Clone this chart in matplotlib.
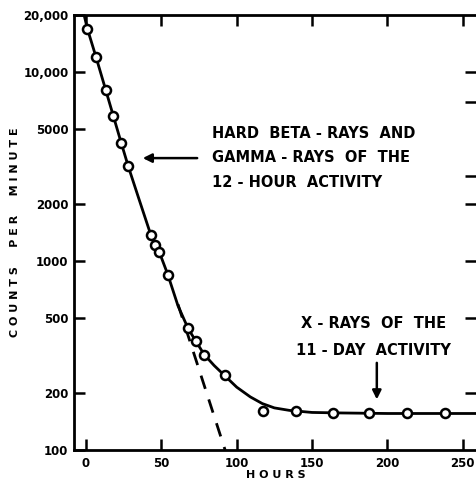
import matplotlib
matplotlib.use("Agg")
import matplotlib.pyplot as plt
from matplotlib.ticker import FixedLocator, FixedFormatter, NullLocator

# measured points (hours, counts per minute)
hours = [0.9, 6.6, 13.1, 18.1, 23.2, 28.1, 42.9, 45.8, 48.7, 54.2,
         67.7, 73.0, 78.4, 92.1, 117.3, 139.4, 163.6, 187.5, 213.1, 238.2]
counts = [16900, 12000, 8000, 5850, 4220, 3190, 1380, 1210, 1120, 842,
          443, 377, 318, 249, 161, 160, 156, 156, 156, 156]

# smooth curve
curve_hours = [-1.3, 0.9, 6.6, 13.1, 18.1, 23.2, 28.1, 35, 42.9, 48.7, 54.2, 61,
               67.7, 73.0, 78.4, 85, 92.1, 100, 109, 117, 125, 135, 150, 170,
               200, 262]
curve_counts = [20000, 16900, 12000, 8000, 5850, 4250, 3150, 2140, 1380, 1110, 850, 580,
                440, 375, 320, 280, 247, 215, 191, 176, 167, 162, 158, 157,
                156, 156]

# 12-hour component extrapolated (dashed)
dash_hours = [61, 92.3]
dash_counts = [590, 100]

y_ticks = [100, 200, 500, 1000, 2000, 5000, 10000, 20000]
y_labels = ["100", "200", "500", "1000", "2000", "5000", "10,000", "20,000"]
x_ticks = [0, 50, 100, 150, 200, 250]
right_ticks = [200, 500, 1000, 2000, 2800, 6900, 10000]

plt.rcParams['font.family'] = ['DejaVu Sans']
plt.rcParams['font.weight'] = 'bold'

fig = plt.figure(figsize=(4.77, 4.84), dpi=100)
ax = fig.add_axes([74 / 477, 1 - 450 / 484, 1 - 74 / 477, 435 / 484])

ax.plot(curve_hours, curve_counts, color='black', lw=2, zorder=2)
ax.plot(dash_hours, dash_counts, color='black', lw=2, ls=(0, (5, 4)), zorder=2)
ax.plot(hours, counts, 'o', ms=6.5, mfc='white', mec='black', mew=1.8, zorder=3)

ax.set_yscale('log')
ax.set_xlim(-8, 259.5)
ax.set_ylim(100, 20000)

ax.yaxis.set_major_locator(FixedLocator(y_ticks))
ax.yaxis.set_major_formatter(FixedFormatter(y_labels))
ax.yaxis.set_minor_locator(NullLocator())
ax.set_xticks(x_ticks)
ax.tick_params(axis='both', direction='in', length=8, width=1.8, labelsize=8.5)
ax.tick_params(axis='x', top=True, pad=5)
ax.tick_params(axis='y', pad=4)

# right side ticks (no visible spine)
ax2 = ax.twinx()
ax2.set_yscale('log')
ax2.set_ylim(100, 20000)
ax2.yaxis.set_major_locator(FixedLocator(right_ticks))
ax2.yaxis.set_minor_locator(NullLocator())
ax2.tick_params(axis='y', direction='in', length=9, width=1.8, labelright=False)
for s in ax2.spines.values():
    s.set_visible(False)

for side in ['left', 'bottom', 'top']:
    ax.spines[side].set_linewidth(2)
ax.spines['right'].set_visible(False)

ax.set_xlabel("H O U R S", fontsize=8, fontweight='bold', labelpad=0)
ax.set_ylabel("C O U N T S     P E R     M I N U T E", fontsize=8, fontweight='bold', labelpad=2)

# annotations
txt_kw = dict(fontsize=10.5, fontweight='bold', va='center')
ax.text(83.6, 4750, "HARD  BETA - RAYS  AND", **txt_kw)
ax.text(83.6, 3545, "GAMMA - RAYS  OF  THE", **txt_kw)
ax.text(83.6, 2612, "12 - HOUR  ACTIVITY", **txt_kw)
ax.annotate("", xy=(35.8, 3500), xytext=(75.6, 3500),
            arrowprops=dict(arrowstyle='-|>', lw=1.8, color='black', mutation_scale=13))

ax.text(191, 469, "X - RAYS  OF  THE", ha='center', **txt_kw)
ax.text(191, 338, "11 - DAY  ACTIVITY", ha='center', **txt_kw)
ax.annotate("", xy=(193, 179), xytext=(193, 299),
            arrowprops=dict(arrowstyle='-|>', lw=1.8, color='black', mutation_scale=13))

fig.savefig("out.png", dpi=100)
